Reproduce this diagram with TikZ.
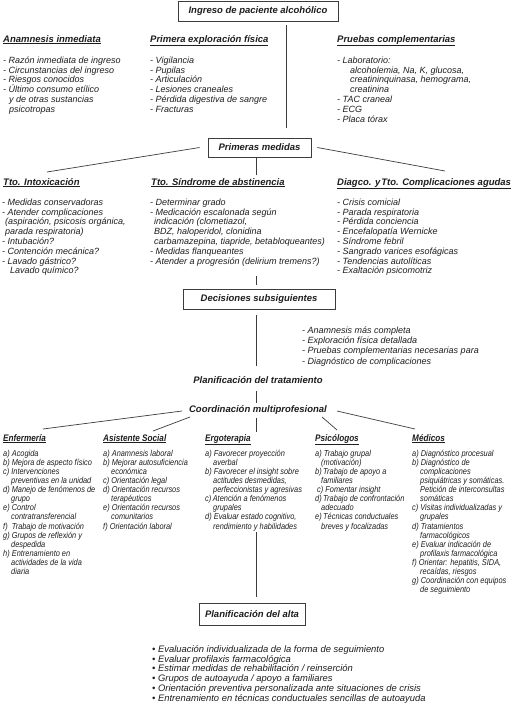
\documentclass[tikz,border=0pt]{standalone}
\usepackage{fontspec}
\setmainfont{Liberation Sans}
\newfontfamily\nar{Liberation Sans}[FakeStretch=0.86]
\definecolor{ink}{RGB}{30,30,30}
\definecolor{lncol}{RGB}{60,60,60}
\begin{document}
\lineskiplimit=-20pt\relax
\begin{tikzpicture}[x=1pt,y=-1pt,
 every node/.style={text=ink},
 box/.style={draw=lncol,line width=0.7pt,inner sep=0pt,font=\bfseries\itshape\fontsize{9.5}{10}\selectfont},
 hd/.style={anchor=base west,inner sep=0pt,font=\bfseries\itshape\fontsize{9.5}{10}\selectfont},
 nhd/.style={hd,font=\nar\bfseries\itshape\fontsize{9.5}{10}\selectfont},
 bt/.style={anchor=base,inner sep=0pt,font=\bfseries\itshape\fontsize{9.5}{10}\selectfont},
 lst/.style={anchor=north west,inner sep=0pt,align=left,font=\itshape\fontsize{9}{9.8}\selectfont},
 dlst/.style={lst,font=\itshape\fontsize{9}{10.3}\selectfont},
 nlst/.style={lst,font=\nar\itshape\fontsize{8.6}{9.1}\selectfont},
 blst/.style={lst,font=\itshape\fontsize{9.4}{9.8}\selectfont},
 conn/.style={draw=lncol,line width=0.7pt}]
\fill[white] (0,0) rectangle (513,704);
\useasboundingbox (0,0) rectangle (513,704);
\def\st{\vrule height7pt depth0pt width0pt\relax}

% --- top
\node[box,minimum width=160,minimum height=20] (ing) at (258,11) {Ingreso de paciente alcohólico};
\node[hd] (h1) at (3,42) {\underline{Anamnesis inmediata}};
\node[hd] (h2) at (150,42) {\underline{Primera exploración física}};
\node[hd] (h3) at (337,42) {\underline{Pruebas complementarias}};
\node[lst] (l1) at (3,56) {\st- Razón inmediata de ingreso\\- Circunstancias del ingreso\\- Riesgos conocidos\\- Último consumo etílico\\\hspace*{6pt}y de otras sustancias\\\hspace*{6pt}psicotropas};
\node[lst] (l2) at (150,56) {\st- Vigilancia\\- Pupilas\\- Articulación\\- Lesiones craneales\\- Pérdida digestiva de sangre\\- Fracturas};
\node[lst] (l3) at (337,56) {\st- Laboratorio:\\\hspace*{13pt}alcoholemia, Na, K, glucosa,\\\hspace*{13pt}creatininquinasa, hemograma,\\\hspace*{13pt}creatinina\\- TAC craneal\\- ECG\\- Placa tórax};
\coordinate (c0) at (286,25);
\coordinate (c1) at (286,128);
\draw[conn] (c0) -- (c1);

% --- primeras medidas
\node[box,minimum width=103,minimum height=19] (pm) at (259.5,147.5) {Primeras medidas};
\coordinate (c2) at (47,172);
\coordinate (c3) at (445,171);
\coordinate (c4) at (256,175);
\draw[conn] ([xshift=-8pt]pm.west) -- (c2);
\draw[conn] ([xshift=6pt]pm.east) -- (c3);
\draw[conn] (pm.south -| c4) -- (c4);
\node[hd] (h4) at (3,185) {\underline{Tto. Intoxicación}};
\node[hd] (h5) at (151,185) {\underline{Tto. Síndrome de abstinencia}};
\node[hd] (h6) at (337,185) {\underline{Diagco. y\kern1pt Tto. Complicaciones agudas}};
\node[lst] (l4) at (2,198) {\st- Medidas conservadoras\\- Atender complicaciones\\\hspace*{3pt}(aspiración, psicosis orgánica,\\\hspace*{3pt}parada respiratoria)\\- Intubación?\\- Contención mecánica?\\- Lavado gástrico?\\\hspace*{8pt}Lavado químico?};
\node[lst] (l5) at (150,198) {\st- Determinar grado\\- Medicación escalonada según\\\hspace*{4pt}indicación (clometiazol,\\\hspace*{4pt}BDZ, haloperidol, clonidina\\\hspace*{4pt}carbamazepina, tiapride, betabloqueantes)\\- Medidas flanqueantes\\- Atender a progresión (delirium tremens?)};
\node[lst] (l6) at (337,198) {\st- Crisis comicial\\- Parada respiratoria\\- Pérdida conciencia\\- Encefalopatía Wernicke\\- Síndrome febril\\- Sangrado varices esofágicas\\- Tendencias autolíticas\\- Exaltación psicomotriz};

% --- decisiones
\node[box,minimum width=152,minimum height=20] (ds) at (259,299) {Decisiones subsiguientes};
\coordinate (c5a) at (256,276);
\coordinate (c5b) at (256,285);
\draw[conn] (c5a) -- (c5b);
\coordinate (c6a) at (256,315);
\coordinate (c6b) at (256,366);
\draw[conn] (c6a) -- (c6b);
\node[dlst] (l7) at (302,326) {\st- Anamnesis más completa\\- Exploración física detallada\\- Pruebas complementarias necesarias para\\- Diagnóstico de complicaciones};
\node[bt] (pt) at (258,383) {Planificación del tratamiento};
\coordinate (c7a) at (256,391);
\coordinate (c7b) at (256,403);
\draw[conn] (c7a) -- (c7b);
\node[bt] (cm) at (258,412) {Coordinación multiprofesional};
\coordinate (d1a) at (182,411); \coordinate (d1b) at (43,429);
\coordinate (d2a) at (190,417); \coordinate (d2b) at (153,431);
\coordinate (d3a) at (256,418); \coordinate (d3b) at (256,432);
\coordinate (d4a) at (322,417); \coordinate (d4b) at (337,430);
\coordinate (d5a) at (337,411); \coordinate (d5b) at (415,429);
\draw[conn] (d1a) -- (d1b);
\draw[conn] (d2a) -- (d2b);
\draw[conn] (d3a) -- (d3b);
\draw[conn] (d4a) -- (d4b);
\draw[conn] (d5a) -- (d5b);

% --- professions
\node[nhd] (p1) at (3,441) {\underline{Enfermería}};
\node[nhd] (p2) at (103,441) {\underline{Asistente Social}};
\node[nhd] (p3) at (205,441) {\underline{Ergoterapia}};
\node[nhd] (p4) at (315,441) {\underline{Psicólogos}};
\node[nhd] (p5) at (412,441) {\underline{Médicos}};
\node[nlst] (q1) at (3,449) {\st a) Acogida\\b) Mejora de aspecto físico\\c) Intervenciones\\\hspace*{8pt}preventivas en la unidad\\d) Manejo de fenómenos de\\\hspace*{8pt}grupo\\e) Control\\\hspace*{8pt}contratransferencial\\f)\ \ Trabajo de motivación\\g) Grupos de reflexión y\\\hspace*{8pt}despedida\\h) Entrenamiento en\\\hspace*{8pt}actividades de la vida\\\hspace*{8pt}diaria};
\node[nlst] (q2) at (103,449) {\st a) Anamnesis laboral\\b) Mejorar autosuficiencia\\\hspace*{8pt}económica\\c) Orientación legal\\d) Orientación recursos\\\hspace*{8pt}terapéuticos\\e) Orientación recursos\\\hspace*{8pt}comunitarios\\f) Orientación laboral};
\node[nlst] (q3) at (205,449) {\st a) Favorecer proyección\\\hspace*{8pt}averbal\\b) Favorecer el insight sobre\\\hspace*{8pt}actitudes desmedidas,\\\hspace*{8pt}perfeccionistas y agresivas\\c)\,Atención a fenómenos\\\hspace*{8pt}grupales\\d) Evaluar estado cognitivo,\\\hspace*{8pt}rendimiento y habilidades};
\node[nlst] (q4) at (315,449) {\st a) Trabajo grupal\\\hspace*{6pt}(motivación)\\b)\,Trabajo de apoyo a\\\hspace*{6pt}familiares\\\hspace*{2pt}c) Fomentar insight\\d)\,Trabajo de confrontación\\\hspace*{6pt}adecuado\\e)\,Técnicas conductuales\\\hspace*{6pt}breves y focalizadas};
\node[nlst] (q5) at (412,449) {\st a) Diagnóstico procesual\\b) Diagnóstico de\\\hspace*{8pt}complicaciones\\\hspace*{8pt}psiquiátricas y somáticas.\\\hspace*{8pt}Petición de interconsultas\\\hspace*{8pt}somáticas\\c) Visitas individualizadas y\\\hspace*{8pt}grupales\\d) Tratamientos\\\hspace*{8pt}farmacológicos\\e) Evaluar indicación de\\\hspace*{8pt}profilaxis farmacológica\\f) Orientar: hepatitis, SIDA,\\\hspace*{8pt}recaídas, riesgos\\g) Coordinación con equipos\\\hspace*{8pt}de seguimiento};

% --- alta
\coordinate (c8) at (256,532);
\coordinate (c9) at (256,597);
\draw[conn] (c8) -- (c9);
\node[box,minimum width=106,minimum height=22] (pa) at (252,614) {Planificación del alta};
\node[blst] (bl) at (152,645) {\st• Evaluación individualizada de la forma de seguimiento\\• Evaluar profilaxis farmacológica\\• Estimar medidas de rehabilitación / reinserción\\• Grupos de autoayuda / apoyo a familiares\\• Orientación preventiva personalizada ante situaciones de crisis\\• Entrenamiento en técnicas conductuales sencillas de autoayuda};
\end{tikzpicture}
\end{document}
